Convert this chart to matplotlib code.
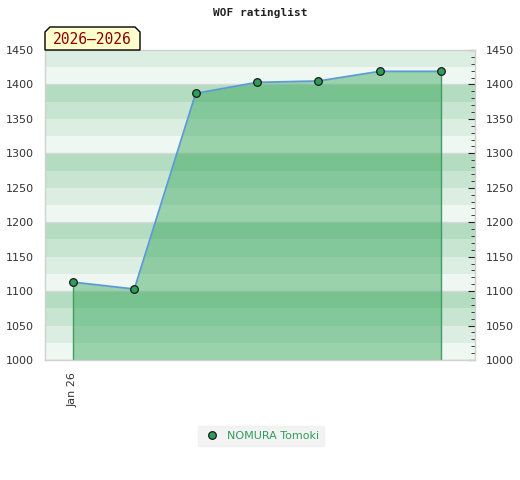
import matplotlib
matplotlib.use("Agg")
import matplotlib.pyplot as plt
import matplotlib.dates as mdates
from matplotlib.patches import Polygon
from matplotlib.lines import Line2D
import datetime as dt

# data
dates = ["2026-01-01", "2026-01-06", "2026-01-11", "2026-01-16",
         "2026-01-21", "2026-01-26", "2026-01-31"]
ratings = [1113, 1103, 1387, 1403, 1405, 1419, 1419]
player = "NOMURA Tomoki"
title = "WOF ratinglist"
period = "2026\u20132026"
y_ticks = [1000, 1050, 1100, 1150, 1200, 1250, 1300, 1350, 1400, 1450]

x = [dt.datetime.strptime(d, "%Y-%m-%d") for d in dates]

fig = plt.figure(figsize=(5.2, 4.8), dpi=100)
ax = fig.add_axes([45 / 520, 1 - 360 / 480, 430 / 520, 310 / 480])

# background bands, 4 shades per 100 points
band_cols = ["#b3dcc0", "#c8e5d2", "#dcede2", "#eff7f2"]
for lo in range(1000, 1450, 25):
    idx = 3 - ((lo % 100) // 25)
    ax.axhspan(lo, lo + 25, color=band_cols[idx], lw=0, zorder=0)
for yv in range(1000, 1451, 100):
    ax.axhline(yv, color="#d8d8d8", lw=1, zorder=0.5)

# area + line
ax.fill_between(x, ratings, 1000, color="#25a04d", alpha=0.42, lw=0, zorder=1)
ax.vlines([x[0], x[-1]], 1000, [ratings[0], ratings[-1]], color="#3f9f60", lw=1, zorder=2)
ax.plot(x, ratings, color="#5b9bd5", lw=1.3, zorder=3)
ax.plot(x, ratings, ls="none", marker="o", ms=5.5, mfc="#2e9e5a", mec="#1a1a1a",
        mew=0.9, zorder=4)

ax.set_xlim(x[0] - dt.timedelta(days=2.28), x[0] + dt.timedelta(days=32.76))
ax.set_ylim(1000, 1450)
ax.set_xticks([x[0]])
ax.xaxis.set_major_formatter(mdates.DateFormatter("%b %y"))
ax.tick_params(axis="x", length=0, labelsize=8, labelcolor="#333333", rotation=90, pad=9)

ax.set_yticks(y_ticks)
ax.tick_params(axis="y", which="both", left=False, right=True, labelleft=True,
               labelright=True, direction="in", labelsize=8, labelcolor="#333333",
               color="#222222")
ax.tick_params(axis="y", which="major", length=5, pad=8)
ax.yaxis.set_minor_locator(matplotlib.ticker.MultipleLocator(10))
ax.tick_params(axis="y", which="minor", length=3)
for s in ax.spines.values():
    s.set_color("#d0d0d0")
    s.set_linewidth(1)

fig.text(0.5, 1 - 13 / 480, title, ha="center", va="center",
         fontsize=8, fontweight="bold", family="DejaVu Sans Mono", color="#222222")

# period label box with clipped top corners
x0, x1, y0, y1, c = 45, 140, 50, 27, 5
pts = [(x0, y0), (x0, y1 + c), (x0 + c, y1), (x1 - c, y1), (x1, y1 + c), (x1, y0)]
poly = Polygon([(px / 520, 1 - py / 480) for px, py in pts], closed=True,
               transform=fig.transFigure, facecolor="#ffffcc", edgecolor="#000000",
               lw=1, zorder=5)
fig.patches.append(poly)
fig.text((x0 + x1) / 2 / 520, 1 - 39.5 / 480, period, ha="center", va="center",
         fontsize=10.5, family="DejaVu Sans Mono", color="#8b0000", zorder=6)

# legend
handle = Line2D([], [], ls="none", marker="o", ms=5.5, mfc="#2e9e5a", mec="#1a1a1a", mew=0.9)
leg = fig.legend([handle], [player], loc="center", bbox_to_anchor=(261 / 520, 1 - 436 / 480),
                 frameon=True, fontsize=8, handletextpad=0.5, borderpad=0.45,
                 handlelength=1.6, fancybox=False)
leg.get_frame().set_facecolor("#f0f0f0")
leg.get_frame().set_edgecolor("#f0f0f0")
for t in leg.get_texts():
    t.set_color("#2e9e5a")

fig.savefig("out.png", dpi=100, facecolor="white")
